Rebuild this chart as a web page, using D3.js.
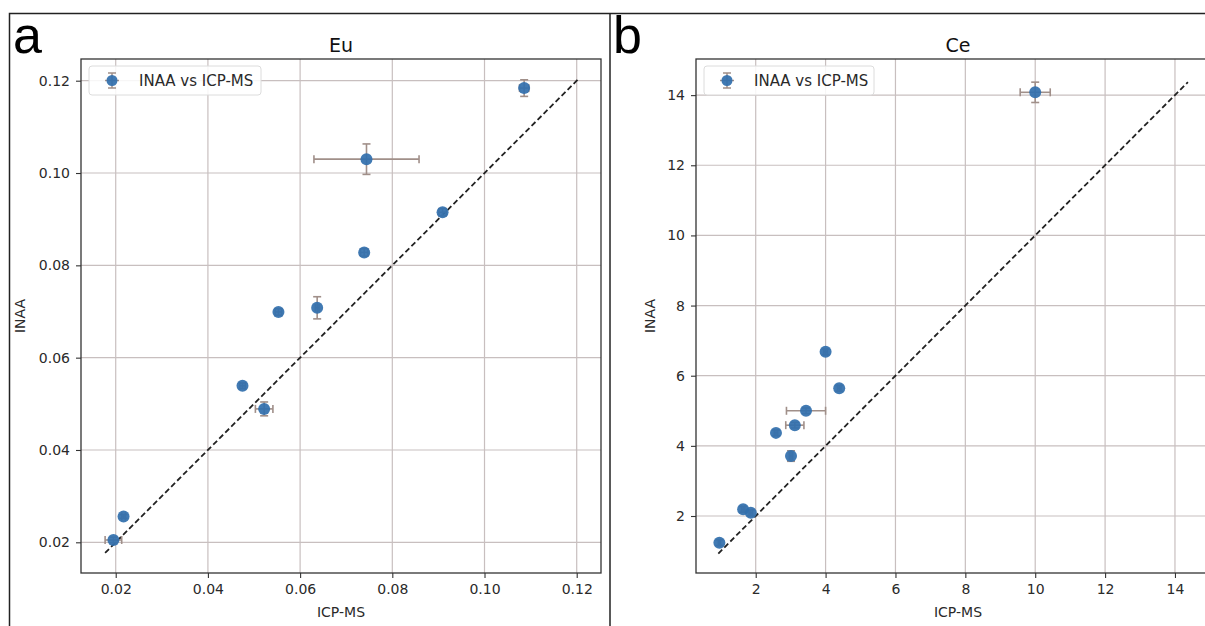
<!DOCTYPE html>
<html>
<head>
<meta charset="utf-8">
<script src="https://cdn.jsdelivr.net/npm/d3@7"></script>
<style>
  body { margin: 0; background: #fff; }
  text { font-family: "DejaVu Sans", sans-serif; }
</style>
</head>
<body>
<script>
// Eu panel values (ICP-MS vs INAA) with errors
var icpEu     = [0.1086, 0.0744, 0.0909, 0.0739, 0.0637, 0.0553, 0.0475, 0.0522, 0.0217, 0.0195];
var inaaEu    = [0.1184, 0.1030, 0.0915, 0.0828, 0.0708, 0.0699, 0.0539, 0.0489, 0.0256, 0.0205];
var icpEuErr  = [0.0010, 0.0114, 0.0008, 0.0008, 0.0004, 0.0007, 0.0006, 0.0019, 0.0004, 0.0018];
var inaaEuErr = [0.0018, 0.0033, 0.0008, 0.0008, 0.0024, 0.0007, 0.0006, 0.0015, 0.0004, 0.0006];

// Ce panel values
var icpCe     = [10.0, 4.00, 4.39, 3.44, 3.12, 2.58, 3.01, 1.64, 1.86, 0.96];
var inaaCe    = [14.08, 6.68, 5.64, 5.00, 4.59, 4.37, 3.71, 2.19, 2.09, 1.24];
var icpCeErr  = [0.43, 0.05, 0.05, 0.56, 0.26, 0.05, 0.05, 0.05, 0.05, 0.03];
var inaaCeErr = [0.29, 0.08, 0.08, 0.08, 0.08, 0.08, 0.15, 0.08, 0.08, 0.08];

var euTicks = [0.02, 0.04, 0.06, 0.08, 0.10, 0.12];
var ceTicks = [2, 4, 6, 8, 10, 12, 14];

var legendLabel = "INAA vs ICP-MS";

var width = 1205, height = 626;

var svg = d3.select("body").append("svg")
  .attr("width", width)
  .attr("height", height);

// outer figure frame + divider
svg.append("rect")
  .attr("x", 9.5).attr("y", 13.5)
  .attr("width", 1220).attr("height", 640)
  .attr("fill", "none").attr("stroke", "#222").attr("stroke-width", 1.5);
svg.append("line")
  .attr("x1", 610).attr("x2", 610).attr("y1", 13.5).attr("y2", height)
  .attr("stroke", "#222").attr("stroke-width", 1.5);

function drawPanel(p) {
  var x = d3.scaleLinear().domain(p.xDomain).range([p.left, p.right]);
  var y = d3.scaleLinear().domain(p.yDomain).range([p.bottom, p.top]);

  var data = p.xs.map(function(v, i) {
    return {x: v, y: p.ys[i], xe: p.xerr[i], ye: p.yerr[i]};
  });

  var g = svg.append("g");

  // grid
  g.selectAll(".vgrid").data(p.ticks).enter().append("line")
    .attr("x1", function(d) { return x(d); }).attr("x2", function(d) { return x(d); })
    .attr("y1", p.top).attr("y2", p.bottom)
    .attr("stroke", "#c8bfbf").attr("stroke-width", 1.2);
  g.selectAll(".hgrid").data(p.ticks).enter().append("line")
    .attr("y1", function(d) { return y(d); }).attr("y2", function(d) { return y(d); })
    .attr("x1", p.left).attr("x2", p.right)
    .attr("stroke", "#c8bfbf").attr("stroke-width", 1.2);

  // axes
  var xAxis = d3.axisBottom(x).tickValues(p.ticks).tickFormat(p.fmt).tickSize(5).tickPadding(6);
  var yAxis = d3.axisLeft(y).tickValues(p.ticks).tickFormat(p.fmt).tickSize(5).tickPadding(6);
  var gx = g.append("g").attr("transform", "translate(0," + p.bottom + ")").call(xAxis);
  var gy = g.append("g").attr("transform", "translate(" + p.left + ",0)").call(yAxis);
  [gx, gy].forEach(function(a) {
    a.select(".domain").remove();
    a.selectAll(".tick line").attr("stroke", "#333").attr("stroke-width", 1.1);
    a.selectAll(".tick text").style("font-size", "14px").style("fill", "#2a2a2a");
  });

  // spines
  g.append("rect")
    .attr("x", p.left).attr("y", p.top)
    .attr("width", p.right - p.left).attr("height", p.bottom - p.top)
    .attr("fill", "none").attr("stroke", "#333").attr("stroke-width", 1.3);

  // 1:1 reference line from smallest to largest extent
  var lo = d3.min(data, function(d) { return Math.min(d.x - d.xe, d.y - d.ye); });
  var hi = d3.max(data, function(d) { return Math.max(d.x + d.xe, d.y + d.ye); });
  g.append("line")
    .attr("x1", x(lo)).attr("y1", y(lo))
    .attr("x2", x(hi)).attr("y2", y(hi))
    .attr("stroke", "#222").attr("stroke-width", 1.8)
    .attr("stroke-dasharray", "5.5,3");

  // error bars
  var ecol = "#a08f89";
  var eb = g.selectAll(".eb").data(data).enter().append("g")
    .attr("stroke", ecol).attr("stroke-width", 1.6);
  eb.append("line")
    .attr("x1", function(d) { return x(d.x - d.xe); }).attr("x2", function(d) { return x(d.x + d.xe); })
    .attr("y1", function(d) { return y(d.y); }).attr("y2", function(d) { return y(d.y); });
  eb.append("line")
    .attr("x1", function(d) { return x(d.x); }).attr("x2", function(d) { return x(d.x); })
    .attr("y1", function(d) { return y(d.y - d.ye); }).attr("y2", function(d) { return y(d.y + d.ye); });
  [-1, 1].forEach(function(s) {
    eb.append("line")
      .attr("x1", function(d) { return x(d.x + s * d.xe); }).attr("x2", function(d) { return x(d.x + s * d.xe); })
      .attr("y1", function(d) { return y(d.y) - 4; }).attr("y2", function(d) { return y(d.y) + 4; });
    eb.append("line")
      .attr("x1", function(d) { return x(d.x) - 4; }).attr("x2", function(d) { return x(d.x) + 4; })
      .attr("y1", function(d) { return y(d.y + s * d.ye); }).attr("y2", function(d) { return y(d.y + s * d.ye); });
  });

  // markers
  g.selectAll(".pt").data(data).enter().append("circle")
    .attr("cx", function(d) { return x(d.x); })
    .attr("cy", function(d) { return y(d.y); })
    .attr("r", 6)
    .attr("fill", "#3370ad").attr("fill-opacity", 0.93);

  // legend
  var lg = g.append("g").attr("transform", "translate(" + (p.left + 8) + "," + (p.top + 7) + ")");
  lg.append("rect")
    .attr("width", p.legendW).attr("height", 29).attr("rx", 3)
    .attr("fill", "#fff").attr("fill-opacity", 0.85)
    .attr("stroke", "#dcdcdc").attr("stroke-width", 1);
  lg.append("line").attr("x1", 16).attr("x2", 30).attr("y1", 14.5).attr("y2", 14.5).attr("stroke", ecol).attr("stroke-width", 1.5);
  lg.append("line").attr("x1", 23).attr("x2", 23).attr("y1", 7).attr("y2", 22).attr("stroke", ecol).attr("stroke-width", 1.5);
  lg.append("line").attr("x1", 19).attr("x2", 27).attr("y1", 7).attr("y2", 7).attr("stroke", ecol).attr("stroke-width", 1.5);
  lg.append("line").attr("x1", 19).attr("x2", 27).attr("y1", 22).attr("y2", 22).attr("stroke", ecol).attr("stroke-width", 1.5);
  lg.append("circle").attr("cx", 23).attr("cy", 14.5).attr("r", 5.5).attr("fill", "#3370ad").attr("fill-opacity", 0.93);
  lg.append("text").attr("x", 50).attr("y", 20).style("font-size", "15px").style("fill", "#2a2a2a").text(legendLabel);

  // titles and labels
  var cx = (p.left + p.labelRight) / 2;
  svg.append("text").attr("x", cx).attr("y", 52)
    .attr("text-anchor", "middle").style("font-size", "19px").style("fill", "#111").text(p.title);
  svg.append("text").attr("x", cx).attr("y", 617)
    .attr("text-anchor", "middle").style("font-size", "14px").style("fill", "#2a2a2a").text("ICP-MS");
  svg.append("text")
    .attr("transform", "translate(" + p.yLabelX + "," + ((p.top + p.bottom) / 2) + ") rotate(-90)")
    .attr("text-anchor", "middle").style("font-size", "14px").style("fill", "#2a2a2a").text("INAA");
  svg.append("text").attr("x", p.tagX).attr("y", 53)
    .style("font-family", "'Liberation Sans', Arial, sans-serif")
    .style("font-size", "52px").style("fill", "#000").text(p.tag);
}

drawPanel({
  xs: icpEu, ys: inaaEu, xerr: icpEuErr, yerr: inaaEuErr,
  xDomain: [0.01247, 0.12527], yDomain: [0.01335, 0.1247],
  left: 81, right: 601, top: 59, bottom: 573, labelRight: 601,
  ticks: euTicks, fmt: d3.format(".2f"),
  title: "Eu", tag: "a", tagX: 13, yLabelX: 25, legendW: 172
});

drawPanel({
  xs: icpCe, ys: inaaCe, xerr: icpCeErr, yerr: inaaCeErr,
  xDomain: [0.291, 15.06], yDomain: [0.375, 15.03],
  left: 696, right: 1212, top: 59, bottom: 573, labelRight: 1220,
  ticks: ceTicks, fmt: d3.format("d"),
  title: "Ce", tag: "b", tagX: 613, yLabelX: 655, legendW: 170
});
</script>
</body>
</html>
